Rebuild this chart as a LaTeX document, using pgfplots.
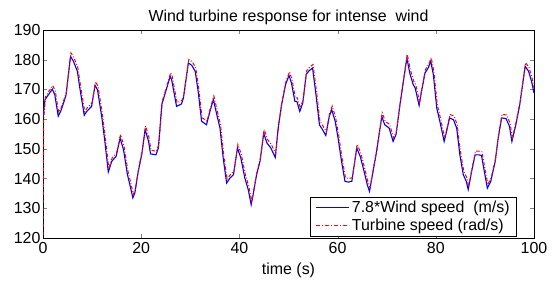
\documentclass[border=0pt]{standalone}
\usepackage{pgfplots}
\pgfplotsset{compat=1.18}
\usepackage{fontspec}
\setmainfont{Liberation Sans}
\pgfplotstableread{
t v
0 160.4
0.4 166.5
1.1 168.2
1.9 170.1
2.4 168.2
3.1 161
3.6 162.6
4.3 166
4.7 168.2
5.6 181.1
6.2 179.5
7.0 176.1
7.5 170.5
8.4 161.3
8.9 162.6
9.9 164.3
10.6 171.4
11.1 169.9
12.0 160.4
12.6 152.5
13.3 142.2
14.0 145.8
14.9 147.5
15.7 153.6
16.4 149.7
17.2 141.3
17.7 137.9
18.3 133.5
18.7 135.1
19.4 142.4
20.1 148
20.8 156.5
21.5 152.5
21.9 148.3
23.0 148
23.5 150.3
24.2 164.9
25.1 169.9
25.9 174.4
26.2 173.3
27.2 164.3
28.2 165.1
28.6 167.1
29.6 178.9
30.3 178.1
31.0 176.1
31.6 169.4
32.3 159.3
33.3 158.1
34.0 162.6
34.7 166.6
35.4 161.5
36.05 157
36.7 146.9
37.4 138.5
38.1 140.2
38.8 141.3
39.6 150.3
40.3 146.9
41.1 140.2
41.8 136.3
42.4 131.2
42.8 134.6
43.5 141.3
44.2 145.8
44.95 155.3
45.6 152
46.4 150.3
47.3 147.1
47.9 157
48.6 164.9
49.4 171.6
50.1 174.7
50.6 172.2
51.3 166
51.7 166
52.3 162.6
52.9 165.4
53.6 175
54.2 176.3
54.9 177.2
55.6 168.2
56.3 158.1
56.95 156.4
57.6 154.5
58.3 160.9
58.8 163.2
59.5 159.3
60.1 153.6
60.8 145.8
61.5 139.1
62.2 138.8
62.9 139.1
63.9 150.3
64.6 147.5
65.4 142.4
66.05 137.9
66.5 135.7
67.1 141.3
67.95 149.2
69.0 160.9
69.6 158.1
70.5 157
71.3 152.5
71.9 154.8
72.7 164.9
73.4 172.7
74.1 180.6
74.7 175.5
75.4 171.6
75.8 170.5
76.6 164.6
77.1 169.4
77.8 175.5
78.5 177.4
78.96 179.5
79.5 175
80.2 163.7
80.9 158.7
81.7 152.5
82.2 155.9
82.8 160.4
83.6 159.8
84.25 157
84.9 148
85.6 141.3
86.2 139.1
86.6 136.3
87.3 142.4
88.0 148
88.7 148
89.3 147.8
90.0 141.3
90.5 136.8
91.2 139.1
92.1 145.8
92.7 153.6
93.4 160.4
94.3 160.2
95.0 157.6
95.5 152.5
96.3 158.1
97.1 164.9
98.2 177.8
98.9 176.1
99.5 172.7
100 168.8
}\wind
\pgfplotstableread{
t v
0 121
0.15 160
0.5 167.5
1.2 169.4
2.0 171.3
2.5 169.4
3.2 162.2
3.7 163.8
4.4 167.2
4.8 169.4
5.7 182.3
6.3 180.7
7.1 177.3
7.6 171.7
8.5 162.5
9.0 163.8
10.0 165.5
10.7 172.6
11.2 171.1
12.1 161.6
12.7 153.7
13.4 143.4
14.1 147
15.0 148.7
15.8 154.8
16.5 150.9
17.3 142.5
17.8 139.1
18.4 134.7
18.8 136.3
19.5 143.6
20.2 149.2
20.9 157.7
21.6 153.7
22.0 149.5
23.1 149.2
23.6 151.5
24.3 166.1
25.2 171.1
26.0 175.6
26.3 174.5
27.3 165.5
28.3 166.3
28.7 168.3
29.7 180.1
30.4 179.3
31.1 177.3
31.7 170.6
32.4 160.5
33.4 159.3
34.1 163.8
34.8 167.8
35.5 162.7
36.15 158.2
36.8 148.1
37.5 139.7
38.2 141.4
38.9 142.5
39.7 151.5
40.4 148.1
41.2 141.4
41.9 137.5
42.5 132.4
42.9 135.8
43.6 142.5
44.3 147
45.05 156.5
45.7 153.2
46.5 151.5
47.4 148.3
48.0 158.2
48.7 166.1
49.5 172.8
50.2 175.9
50.7 173.4
51.4 167.2
51.8 167.2
52.4 163.8
53.0 166.6
53.7 176.2
54.3 177.5
55.0 178.4
55.7 169.4
56.4 159.3
57.05 157.6
57.7 155.7
58.4 162.1
58.9 164.4
59.6 160.5
60.2 154.8
60.9 147
61.6 140.3
62.3 140
63.0 140.3
64.0 151.5
64.7 148.7
65.5 143.6
66.15 139.1
66.6 136.9
67.2 142.5
68.05 150.4
69.1 162.1
69.7 159.3
70.6 158.2
71.4 153.7
72.0 156
72.8 166.1
73.5 173.9
74.2 181.8
74.8 176.7
75.5 172.8
75.9 171.7
76.7 165.8
77.2 170.6
77.9 176.7
78.6 178.6
79.06 180.7
79.6 176.2
80.3 164.9
81.0 159.9
81.8 153.7
82.3 157.1
82.9 161.6
83.7 161
84.35 158.2
85.0 149.2
85.7 142.5
86.3 140.3
86.7 137.5
87.4 143.6
88.1 149.2
88.8 149.2
89.4 149
90.1 142.5
90.6 138
91.3 140.3
92.2 147
92.8 154.8
93.5 161.6
94.4 161.4
95.1 158.8
95.6 153.7
96.4 159.3
97.2 166.1
98.3 179
99.0 177.3
99.6 173.9
100 170.5
}\turbine
\begin{document}
\begin{tikzpicture}
\useasboundingbox (-43bp,-44bp) rectangle (517bp,238bp);
\begin{axis}[
  at={(0,0)}, anchor=south west,
  scale only axis, width=491bp, height=208bp,
  xmin=0, xmax=100, ymin=120, ymax=190,
  xtick={0,20,...,100}, ytick={120,130,...,190},
  tick align=inside, xtick pos=both, ytick pos=both,
  major tick length=4bp,
  /pgf/number format/assume math mode=true,
  tick label style={font=\fontsize{16}{18}\selectfont},
  yticklabel style={xshift=1bp},
  xticklabel style={yshift=-1bp},
  label style={font=\fontsize{16}{18}\selectfont},
  title style={font=\fontsize{16}{18}\selectfont, yshift=-4bp},
  title={Wind turbine response for intense\ \ wind},
  xlabel={time (s)},
  xlabel style={yshift=-2bp},
  axis line style={line width=0.6bp},
  legend style={at={(0.965,0.009)}, anchor=south east,
    inner xsep=5bp, inner ysep=2bp, row sep=1bp},
  legend cell align=left,
]
\addplot[draw=blue, line width=1.1bp, forget plot] table[x=t,y=v] {\wind};
\addplot[draw=red, line width=1bp, dash pattern=on 3.5bp off 1.8bp on 0.9bp off 1.8bp, forget plot] table[x=t,y=v] {\turbine};
\addlegendimage{legend image code/.code={\color{blue}\draw[draw=blue, line width=1.3bp] (0bp,0bp) -- (33bp,0bp);}}
\addlegendentry{\fontsize{16}{18}\selectfont 7.8*Wind speed\ \ (m/s)}
\addlegendimage{legend image code/.code={\color{red}\draw[draw=red, line width=1.3bp, dash pattern=on 4bp off 2bp on 1bp off 2bp] (0bp,0bp) -- (33bp,0bp);}}
\addlegendentry{\fontsize{16}{18}\selectfont Turbine speed (rad/s)}
\end{axis}
\end{tikzpicture}
\end{document}
